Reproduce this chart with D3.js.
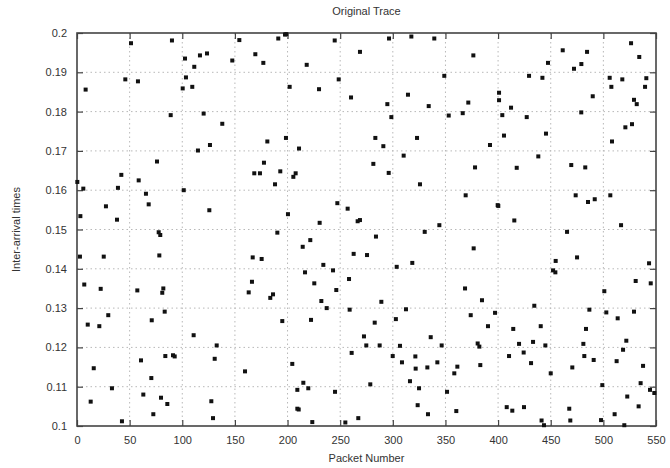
<!DOCTYPE html>
<html>
<head>
<meta charset="utf-8">
<script src="https://cdn.jsdelivr.net/npm/d3@7"></script>
<style>
  body { margin: 0; background: #fff; }
  text { font-family: "Liberation Sans", Arial, sans-serif; }
</style>
</head>
<body>
<div id="chart"></div>
<script>
// packet index of each sample
const packetNumbers = [
  8.2, 51.3, 90.2, 102.6, 116.8, 123.5, 111.4, 45.9, 57.9, 103.5, 100.4, 109.5, 89, 120.3, 114.9, 126.3,
  76, 42.1, 58.6, 0.3, 6, 38.9, 65.5, 101.4, 68.1, 27.5, 3.2, 38, 125.7, 77.6, 79.1, 2.8,
  25.4, 78.2, 6.9, 22.5, 57.3, 81, 82, 83.3, 29.7, 71, 10.2, 21.2, 110.8, 132.7, 60.8, 83.9,
  91.2, 92.8, 130.8, 15.9, 70.6, 33.2, 13, 63, 79.8, 85.8, 127.6, 72.5, 129.2, 42.7,
  154.2, 191.2, 197.6, 198.8, 244.8, 268.8, 147.5, 169.4, 177, 218.2, 248.6, 202, 229.9, 260.3,
  138, 180.8, 198.5, 210.9, 177.6, 168.4, 173.8, 193.1, 188.1, 205.5, 207.7, 247.3, 257.1, 266.6,
  200.4, 230.5, 190.3, 221.6, 214.4, 262.8, 166.9, 175.4, 234, 216.6, 243.2, 166.2, 258.4, 225.4,
  163.1, 246.3, 186.2, 183.6, 232.1, 237.2, 259, 195, 222.3, 260.9, 204.5, 159.6, 215, 209.3,
  219.7, 245.1, 209.3, 210.6, 223.5, 254.9, 267.2,
  296.4, 317.6, 339.4, 376.5, 348.9, 294.8, 314.4, 334.1, 371.7, 400.9, 400.9, 298.6, 353.1, 366.4,
  283.4, 323, 291, 392.3, 310.3, 281.5, 296.1, 378.1, 325.8, 369.2, 399.6, 268.8, 284, 330.3,
  344.2, 275.5, 376.8, 303.7, 318.5, 368.6, 289.1, 384.7, 312.5, 302.9, 282.8, 374, 397.1, 390.4,
  272.6, 336, 274.8, 287.5, 306.8, 346.4, 380.6, 382.2, 299.9, 321.4, 308.7, 321.7, 332.8, 342.3,
  361.3, 358.4, 383.1, 278.6, 316.3, 324.9, 351.5, 323.6, 333.4, 360.3,
  526.3, 534.1, 461.4, 484.5, 447.4, 479.1, 472.1, 429.4, 442.1, 506, 518, 540.8, 507.6, 539.6,
  489.9, 529.1, 531.7, 412.3, 404, 479, 427.2, 527.2, 520.9, 405.6, 445.5, 508.2, 438.2, 417.7,
  469.5, 482.8, 473.7, 485.4, 491.8, 506.6, 400.2, 415.4, 516.8, 465.5, 475, 454.7, 452.2, 454.4,
  543.4, 530.7, 545, 500.9, 434.4, 486.7, 502.8, 529.1, 513.6, 414.4, 440.5, 483.5, 521.8, 419.9,
  433.2, 444.9, 481, 518.7, 410.4, 424.3, 481.9, 490.8, 512.6, 431.3, 537.7, 470.5, 450, 499,
  535.4, 544.3, 548.4, 522.7, 408.2, 413.5, 424.6, 467.6, 533.5, 441.3, 443.6, 468.6, 497.8, 510.7,
  519.9
];

// inter-arrival time of each sample
const interArrival = [
  0.1856, 0.1974, 0.1981, 0.1935, 0.1943, 0.1948, 0.1914, 0.1882, 0.1877, 0.1887, 0.1859, 0.1863, 0.1791, 0.1795, 0.1701, 0.1715,
  0.1673, 0.1639, 0.1625, 0.1621, 0.1604, 0.1606, 0.1591, 0.1600, 0.1564, 0.1559, 0.1534, 0.1525, 0.1549, 0.1493, 0.1486, 0.1431,
  0.1431, 0.1434, 0.1360, 0.1349, 0.1345, 0.1339, 0.1350, 0.1291, 0.1282, 0.1269, 0.1258, 0.1254, 0.1231, 0.1205, 0.1167, 0.1178,
  0.1180, 0.1177, 0.1171, 0.1147, 0.1122, 0.1096, 0.1062, 0.1080, 0.1072, 0.1056, 0.1063, 0.1030, 0.1020, 0.1012,
  0.1982, 0.1986, 0.1996, 0.1997, 0.1981, 0.1952, 0.1930, 0.1946, 0.1924, 0.1919, 0.1882, 0.1863, 0.1857, 0.1836,
  0.1769, 0.1724, 0.1733, 0.1706, 0.1670, 0.1643, 0.1643, 0.1648, 0.1615, 0.1634, 0.1643, 0.1567, 0.1553, 0.1521,
  0.1539, 0.1517, 0.1492, 0.1473, 0.1456, 0.1438, 0.1429, 0.1425, 0.1410, 0.1391, 0.1396, 0.1367, 0.1374, 0.1363,
  0.1340, 0.1346, 0.1335, 0.1326, 0.1318, 0.1300, 0.1296, 0.1267, 0.1270, 0.1186, 0.1158, 0.1139, 0.1110, 0.1092,
  0.1096, 0.1087, 0.1044, 0.1042, 0.1010, 0.1009, 0.1020,
  0.1986, 0.1991, 0.1986, 0.1943, 0.1891, 0.1819, 0.1843, 0.1814, 0.1823, 0.1848, 0.1829, 0.1786, 0.1790, 0.1796,
  0.1733, 0.1733, 0.1712, 0.1715, 0.1688, 0.1667, 0.1644, 0.1658, 0.1615, 0.1587, 0.1562, 0.1524, 0.1482, 0.1494,
  0.1511, 0.1435, 0.1452, 0.1405, 0.1415, 0.1350, 0.1316, 0.1320, 0.1297, 0.1272, 0.1263, 0.1282, 0.1288, 0.1254,
  0.1228, 0.1226, 0.1205, 0.1205, 0.1204, 0.1205, 0.1210, 0.1202, 0.1178, 0.1177, 0.1162, 0.1146, 0.1149, 0.1162,
  0.1151, 0.1134, 0.1155, 0.1106, 0.1114, 0.1096, 0.1087, 0.1053, 0.1030, 0.1038,
  0.1974, 0.1939, 0.1956, 0.1952, 0.1924, 0.1921, 0.1909, 0.1891, 0.1886, 0.1886, 0.1882, 0.1885, 0.1863, 0.1863,
  0.1839, 0.1830, 0.1819, 0.1810, 0.1791, 0.1798, 0.1786, 0.1768, 0.1760, 0.1739, 0.1744, 0.1724, 0.1686, 0.1657,
  0.1664, 0.1658, 0.1587, 0.1570, 0.1577, 0.1587, 0.1560, 0.1523, 0.1511, 0.1494, 0.1429, 0.1420, 0.1396, 0.1391,
  0.1414, 0.1369, 0.1363, 0.1343, 0.1306, 0.1296, 0.1289, 0.1291, 0.1274, 0.1247, 0.1254, 0.1247, 0.1217, 0.1209,
  0.1214, 0.1205, 0.1209, 0.1194, 0.1178, 0.1187, 0.1178, 0.1168, 0.1165, 0.1160, 0.1153, 0.1149, 0.1134, 0.1104,
  0.1109, 0.1092, 0.1084, 0.1075, 0.1048, 0.1039, 0.1048, 0.1044, 0.1050, 0.1014, 0.1002, 0.1014, 0.1015, 0.1030,
  0.1002
];

const xTicks = [0, 50, 100, 150, 200, 250, 300, 350, 400, 450, 500, 550];
const yTicks = [0.1, 0.11, 0.12, 0.13, 0.14, 0.15, 0.16, 0.17, 0.18, 0.19, 0.2];

const width = 670, height = 468;
const margin = { top: 33, right: 14, bottom: 42, left: 77 };

const svg = d3.select('#chart').append('svg')
  .attr('width', width)
  .attr('height', height);

const x = d3.scaleLinear().domain([0, 550]).range([margin.left, width - margin.right]);
const y = d3.scaleLinear().domain([0.1, 0.2]).range([height - margin.bottom, margin.top]);

const fmtY = d => d === 0.1 ? '0.1' : d === 0.2 ? '0.2' : d3.format('.2f')(d);

// dotted grid
svg.append('g')
  .attr('class', 'grid')
  .selectAll('line.gx')
  .data(xTicks.slice(1, -1))
  .join('line')
  .attr('x1', d => x(d)).attr('x2', d => x(d))
  .attr('y1', y(0.2)).attr('y2', y(0.1))
  .attr('stroke', '#b8b8b8').attr('stroke-width', 1).attr('stroke-dasharray', '1.5,3');

svg.append('g')
  .attr('class', 'grid')
  .selectAll('line.gy')
  .data(yTicks.slice(1, -1))
  .join('line')
  .attr('x1', x(0)).attr('x2', x(550))
  .attr('y1', d => y(d)).attr('y2', d => y(d))
  .attr('stroke', '#b8b8b8').attr('stroke-width', 1).attr('stroke-dasharray', '1.5,3');

// axes, ticks pointing inward like gnuplot
const tickLen = 6;
const bottomAxis = d3.axisBottom(x).tickValues(xTicks).tickSize(-tickLen).tickPadding(10).tickFormat(d3.format('d'));
const topAxis = d3.axisTop(x).tickValues(xTicks).tickSize(-tickLen).tickFormat('');
const leftAxis = d3.axisLeft(y).tickValues(yTicks).tickSize(-tickLen).tickPadding(10).tickFormat(fmtY);
const rightAxis = d3.axisRight(y).tickValues(yTicks).tickSize(-tickLen).tickFormat('');

function styleAxis(g) {
  g.select('.domain').remove();
  g.selectAll('.tick line').attr('stroke', '#444').attr('stroke-width', 1.2);
  g.selectAll('.tick text').attr('fill', '#333').style('font-size', '11px');
}

svg.append('g').attr('transform', `translate(0,${y(0.1)})`).call(bottomAxis).call(styleAxis);
svg.append('g').attr('transform', `translate(0,${y(0.2)})`).call(topAxis).call(styleAxis);
svg.append('g').attr('transform', `translate(${x(0)},0)`).call(leftAxis).call(styleAxis);
svg.append('g').attr('transform', `translate(${x(550)},0)`).call(rightAxis).call(styleAxis);

// frame
svg.append('rect')
  .attr('x', x(0)).attr('y', y(0.2))
  .attr('width', x(550) - x(0)).attr('height', y(0.1) - y(0.2))
  .attr('fill', 'none').attr('stroke', '#444').attr('stroke-width', 1.6);

// points
const points = packetNumbers.map((p, i) => ({ p: p, v: interArrival[i] }));
const s = 4;
svg.append('g')
  .selectAll('rect.pt')
  .data(points)
  .join('rect')
  .attr('class', 'pt')
  .attr('x', d => x(d.p) - s / 2)
  .attr('y', d => y(d.v) - s / 2)
  .attr('width', s).attr('height', s)
  .attr('fill', '#111');

// titles
svg.append('text')
  .attr('x', (x(0) + x(550)) / 2).attr('y', 15)
  .attr('text-anchor', 'middle')
  .style('font-size', '11px').attr('fill', '#333')
  .text('Original Trace');

svg.append('text')
  .attr('x', (x(0) + x(550)) / 2).attr('y', 462)
  .attr('text-anchor', 'middle')
  .style('font-size', '11px').attr('fill', '#333')
  .text('Packet Number');

svg.append('text')
  .attr('transform', `translate(20,${(y(0.1) + y(0.2)) / 2}) rotate(-90)`)
  .attr('text-anchor', 'middle')
  .style('font-size', '11px').attr('fill', '#333')
  .text('Inter-arrival times');
</script>
</body>
</html>
